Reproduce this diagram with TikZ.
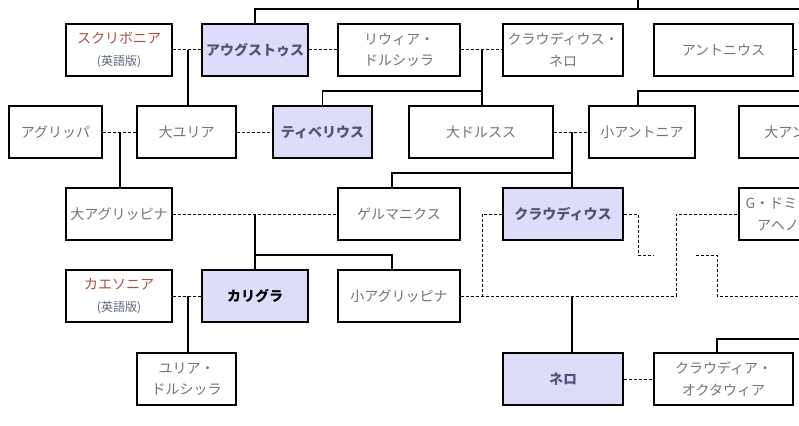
\documentclass[tikz,border=0pt]{standalone}
\usepackage{fontspec}
\setmainfont{Noto Sans CJK JP}
\usepackage{xcolor}
\definecolor{grayt}{RGB}{112,116,126}
\definecolor{redt}{RGB}{168,78,72}
\definecolor{bluet}{RGB}{92,102,122}
\definecolor{purpt}{RGB}{84,80,122}
\definecolor{lavender}{RGB}{221,221,250}

\tikzset{
    person/.style={draw, line width=1.2pt, fill=white, minimum height=52pt, inner sep=0pt,
        align=center, text=grayt, font=\fontsize{14}{21.5}\selectfont},
    emperor/.style={person, fill=lavender, text=purpt, font=\fontsize{14}{21.5}\selectfont\bfseries},
    marr/.style={line width=1pt, dash pattern=on 3pt off 2pt},
    kin/.style={line width=1.2pt}
}
\newcommand{\engver}{{\fontsize{12}{14}\selectfont\color{bluet}(英語版)}}

\begin{document}
\begin{tikzpicture}[x=1pt,y=-1pt]
    \useasboundingbox (0,0) rectangle (799,425);
    \clip (0,0) rectangle (799,425);

    % generation 1
    \node[person, minimum width=106pt] (scr) at (119,50) {\textcolor{redt}{スクリボニア}\\\engver};
    \node[emperor, minimum width=106pt] (aug) at (255,50) {アウグストゥス};
    \node[person, minimum width=122pt] (liv) at (399,50) {リウィア・\\ドルシッラ};
    \node[person, minimum width=120pt] (cln) at (563,50) {クラウディウス・\\ネロ};
    \node[person, minimum width=139pt] (ant) at (723.5,50) {アントニウス};

    % generation 2
    \node[person, minimum width=93pt] (agr) at (55.5,132) {アグリッパ};
    \node[person, minimum width=99pt] (jul) at (186.5,132) {大ユリア};
    \node[emperor, minimum width=99pt] (tib) at (322.5,132) {ティベリウス};
    \node[person, minimum width=144pt] (dru) at (481,132) {大ドルスス};
    \node[person, minimum width=106pt] (anm) at (642,132) {小アントニア};
    \node[person, minimum width=134pt] (anM) at (806,132) {大アントニア};

    % generation 3
    \node[person, minimum width=106pt] (agi) at (119,214) {大アグリッピナ};
    \node[person, minimum width=122pt] (ger) at (399,214) {ゲルマニクス};
    \node[emperor, minimum width=120pt] (cla) at (563,214) {クラウディウス};
    \node[person, minimum width=134pt] (dom) at (806,214) {G・ドミティウス・\\アヘノバルブス};

    % generation 4
    \node[person, minimum width=106pt] (cae) at (119,296) {\textcolor{redt}{カエソニア}\\\engver};
    \node[emperor, minimum width=106pt, text=black] (cal) at (255,296) {カリグラ};
    \node[person, minimum width=122pt] (agm) at (399,296) {小アグリッピナ};

    % generation 5
    \node[person, minimum width=99pt] (jdr) at (186.5,379) {ユリア・\\ドルシッラ};
    \node[emperor, minimum width=120pt] (ner) at (563,379) {ネロ};
    \node[person, minimum width=139pt] (oct) at (723.5,379) {クラウディア・\\オクタウィア};

    % junctions
    \coordinate (topA) at (638,0);
    \coordinate (topR) at (805,9);
    \coordinate (antR) at (805,50);
    \coordinate (antK) at (805,91);
    \coordinate (j1) at (188,50);
    \coordinate (j2) at (482,50);
    \coordinate (j2b) at (482,91);
    \coordinate (j3) at (120,132);
    \coordinate (j4) at (572,132);
    \coordinate (j4b) at (572,173);
    \coordinate (j5) at (255,214);
    \coordinate (j5b) at (255,255);
    \coordinate (j6) at (482,296);
    \coordinate (j7) at (676,296);
    \coordinate (j8) at (572,296);
    \coordinate (j10) at (188,296);
    \coordinate (c1) at (654,255);
    \coordinate (c2) at (696,255);
    \coordinate (c3) at (805,296);
    \coordinate (c4) at (805,339);

    % marriages
    \draw[marr] (scr.east) -- (aug.west);
    \draw[marr] (aug.east) -- (liv.west);
    \draw[marr] (liv.east) -- (cln.west);
    \draw[marr] (ant.east) -- (antR);
    \draw[marr] (agr.east) -- (jul.west);
    \draw[marr] (jul.east) -- (tib.west);
    \draw[marr] (dru.east) -- (anm.west);
    \draw[marr] (agi.east) -- (ger.west);
    \draw[marr] (cla.west) -| (j6);
    \draw[marr] (agm.east) -- (j7) |- (dom.west);
    \draw[marr] (cla.east) -| ([xshift=-16pt]c1) -- (c1);
    \draw[marr] (c2) -- (717,255) |- (c3);
    \draw[marr] (cae.east) -- (cal.west);
    \draw[marr] (ner.east) -- (oct.west);

    % descent
    \draw[kin] (aug.north) |- (topR);
    \draw[kin] (topA) -- (topA |- topR);
    \draw[kin] ([xshift=-4pt]anm.north) |- (antK);
    \draw[kin] (j1) -- (j1 |- jul.north);
    \draw[kin] (j2) -- (j2 |- dru.north);
    \draw[kin] (tib.north) |- (j2b);
    \draw[kin] (j3) -- (j3 |- agi.north);
    \draw[kin] (j4) -- (j4 |- cla.north);
    \draw[kin] ([xshift=-7pt]ger.north) |- (j4b);
    \draw[kin] (j5) -- (j5 |- cal.north);
    \draw[kin] (j5b) -| ([xshift=-7pt]agm.north);
    \draw[kin] (j8) -- (j8 |- ner.north);
    \draw[kin] (j10) -- (j10 |- jdr.north);
    \draw[kin] ([xshift=-6.5pt]oct.north) |- (c4);
\end{tikzpicture}
\end{document}
